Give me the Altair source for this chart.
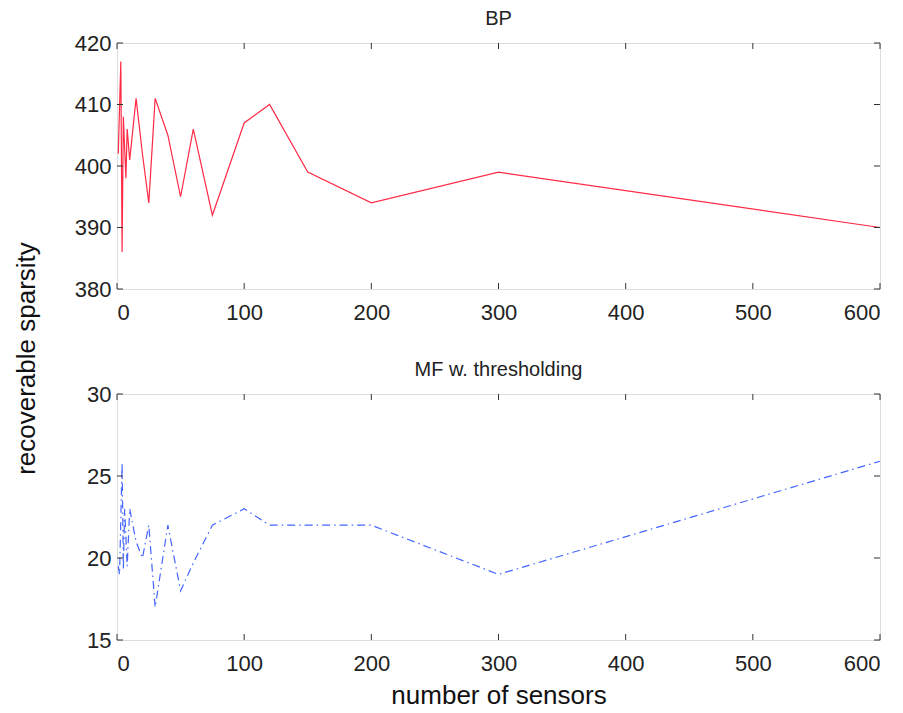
import altair as alt
import pandas as pd

# --- data ---
bp_x = [1, 3, 4, 5, 7, 8, 10, 15, 20, 25, 30, 40, 50, 60, 75, 100, 120, 150, 200, 300, 600]
bp_y = [402, 417, 386, 408, 398, 406, 401, 411, 402, 394, 411, 405, 395, 406, 392, 407, 410, 399, 394, 399, 390]

mf_x = [1, 2, 4, 5, 6, 8, 10, 15, 20, 25, 30, 40, 50, 60, 75, 100, 120, 150, 200, 300, 600]
mf_y = [19.5, 19, 25.8, 19.3, 23, 19.5, 23, 21, 20, 22, 17, 22, 18, 19.7, 22, 23, 22, 22, 22, 19, 25.9]

x_ticks = [0, 100, 200, 300, 400, 500, 600]
bp_ticks = [380, 390, 400, 410, 420]
mf_ticks = [15, 20, 25, 30]

W, H = 763, 246
FONT = "Liberation Sans"
TL = 6  # inner tick length

xscale = alt.Scale(domain=[0, 600], nice=False, zero=False)


def panel(xs, ys, yticks, ydomain, title, color, dash, show_xtitle):
    df = pd.DataFrame({"x": xs, "y": ys})
    yscale = alt.Scale(domain=ydomain, nice=False, zero=False)
    xaxis = alt.Axis(values=x_ticks, ticks=False, domain=False, grid=False,
                     labelPadding=13, labelFontSize=22, labelFont=FONT,
                     labelColor="#222", title="number of sensors" if show_xtitle else None,
                     titleFontSize=26, titleFont=FONT, titleFontWeight="normal",
                     titlePadding=8, titleColor="#111")
    yaxis = alt.Axis(values=yticks, ticks=False, domain=False, grid=False,
                     labelPadding=6, labelFontSize=22, labelFont=FONT,
                     labelColor="#222", title=None)
    line_kwargs = dict(color=color, strokeWidth=1.2)
    if dash:
        line_kwargs["strokeDash"] = dash
    line = alt.Chart(df).mark_line(**line_kwargs).encode(
        x=alt.X("x:Q", scale=xscale, axis=xaxis),
        y=alt.Y("y:Q", scale=yscale, axis=yaxis),
    )
    xt = pd.DataFrame({"t": x_ticks})
    yt = pd.DataFrame({"t": yticks})
    tc = "#333"
    bot = alt.Chart(xt).mark_rule(color=tc, strokeWidth=1).encode(
        x=alt.X("t:Q", scale=xscale), y=alt.value(H), y2=alt.value(H - TL))
    top = alt.Chart(xt).mark_rule(color=tc, strokeWidth=1).encode(
        x=alt.X("t:Q", scale=xscale), y=alt.value(0), y2=alt.value(TL))
    lef = alt.Chart(yt).mark_rule(color=tc, strokeWidth=1).encode(
        y=alt.Y("t:Q", scale=yscale), x=alt.value(0), x2=alt.value(TL))
    rig = alt.Chart(yt).mark_rule(color=tc, strokeWidth=1).encode(
        y=alt.Y("t:Q", scale=yscale), x=alt.value(W), x2=alt.value(W - TL))
    return alt.layer(line, bot, top, lef, rig).properties(
        width=W, height=H,
        title=alt.TitleParams(title, fontSize=20, font=FONT, fontWeight="normal",
                              color="#222", offset=3),
    )


top_panel = panel(bp_x, bp_y, bp_ticks, [380, 420], "BP", "#ff2a45", None, False)
bot_panel = panel(mf_x, mf_y, mf_ticks, [15, 30], "MF w. thresholding", "#4466ff", [8, 4, 1.5, 4], True)

chart = alt.vconcat(
    top_panel, bot_panel, spacing=35,
    title=alt.TitleParams("recoverable sparsity", orient="left", anchor="middle",
                          fontSize=26, font=FONT, fontWeight="normal", color="#111", offset=34),
).properties(
    padding={"left": 5, "top": 0, "right": 5, "bottom": 0}
).configure_view(stroke="#222", strokeWidth=1.2).configure(background="white")

chart.save("out.html", embed_options={"renderer": "svg", "actions": False})
